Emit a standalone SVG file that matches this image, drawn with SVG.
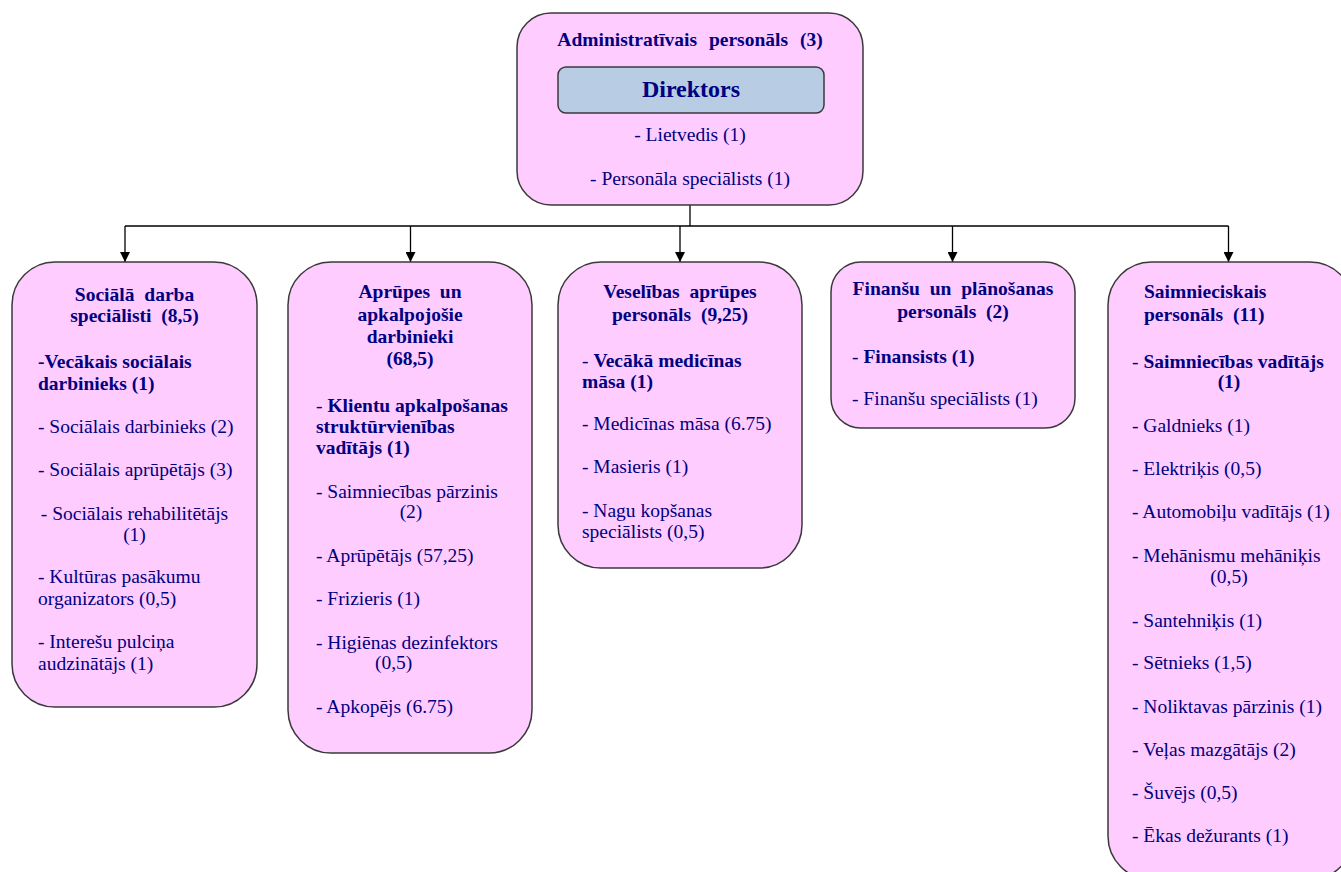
<svg xmlns="http://www.w3.org/2000/svg" width="1341" height="872" viewBox="0 0 1341 872">
<style>
.box{fill:#FFCCFF;stroke:#3a3a3a;stroke-width:1.5}
.dir{fill:#B8CCE4;stroke:#3a3a3a;stroke-width:1.5}
.t{font-family:'Liberation Serif','DejaVu Serif',serif;font-size:19.5px;fill:#000080}
.b{font-weight:bold}
.h{font-weight:bold;word-spacing:5px}
.c{text-anchor:middle}
.n{font-weight:normal}
.conn{stroke:#000;stroke-width:1.3;fill:none}
</style>
<defs>
<marker id="arr" markerWidth="10" markerHeight="10" refX="10" refY="5" orient="auto" markerUnits="userSpaceOnUse">
<path d="M0,0 L10,5 L0,10 z" fill="#000"/>
</marker>
</defs>
<rect width="1341" height="872" fill="#fff"/>

<g id="connectors">
<path class="conn" d="M690 205 V226 M125 226 H1228.5"/>
<path class="conn" d="M125 226 V262" marker-end="url(#arr)"/>
<path class="conn" d="M410.5 226 V262" marker-end="url(#arr)"/>
<path class="conn" d="M680 226 V262" marker-end="url(#arr)"/>
<path class="conn" d="M952.5 226 V262" marker-end="url(#arr)"/>
<path class="conn" d="M1228.5 226 V262" marker-end="url(#arr)"/>
</g>

<g id="admin">
<rect class="box" x="517" y="13" width="346" height="192" rx="34"/>
<text class="t c b" x="690" y="46" style="word-spacing:7px">Administratīvais personāls (3)</text>
<g id="direktors">
<rect class="dir" x="558" y="67" width="266" height="46" rx="8"/>
<text class="t c b" x="691" y="97" style="font-size:24px">Direktors</text>
</g>
<text class="t c" x="690" y="141">- Lietvedis (1)</text>
<text class="t c" x="690" y="185">- Personāla speciālists (1)</text>
</g>

<g id="socialie">
<rect class="box" x="12" y="262" width="245" height="445" rx="43"/>
<text class="t c h" x="134.5" y="301">Sociālā darba</text>
<text class="t c h" x="134.5" y="322">speciālisti (8,5)</text>
<text class="t b" x="38" y="368">-Vecākais sociālais</text>
<text class="t b" x="38" y="390">darbinieks (1)</text>
<text class="t" x="38" y="433">- Sociālais darbinieks (2)</text>
<text class="t" x="38" y="476">- Sociālais aprūpētājs (3)</text>
<text class="t c" x="134.5" y="520">- Sociālais rehabilitētājs</text>
<text class="t c" x="134.5" y="541">(1)</text>
<text class="t" x="38" y="583">- Kultūras pasākumu</text>
<text class="t" x="38" y="605">organizators (0,5)</text>
<text class="t" x="38" y="648">- Interešu pulciņa</text>
<text class="t" x="38" y="670">audzinātājs (1)</text>
</g>

<g id="aprupes">
<rect class="box" x="288" y="262" width="244" height="491" rx="43"/>
<text class="t c h" x="410" y="298">Aprūpes un</text>
<text class="t c h" x="410" y="321">apkalpojošie</text>
<text class="t c h" x="410" y="343">darbinieki</text>
<text class="t c h" x="410" y="365">(68,5)</text>
<text class="t b" x="316" y="412"><tspan class="n">- </tspan>Klientu apkalpošanas</text>
<text class="t b" x="316" y="433">struktūrvienības</text>
<text class="t b" x="316" y="454">vadītājs (1)</text>
<text class="t" x="316" y="498">- Saimniecības pārzinis</text>
<text class="t c" x="411" y="518">(2)</text>
<text class="t" x="316" y="562">- Aprūpētājs (57,25)</text>
<text class="t" x="316" y="605">- Frizieris (1)</text>
<text class="t" x="316" y="649">- Higiēnas dezinfektors</text>
<text class="t" x="375" y="669">(0,5)</text>
<text class="t" x="316" y="713">- Apkopējs (6.75)</text>
</g>

<g id="veselibas">
<rect class="box" x="558" y="262" width="244" height="306" rx="43"/>
<text class="t c h" x="680" y="298">Veselības aprūpes</text>
<text class="t c h" x="680" y="321">personāls (9,25)</text>
<text class="t b" x="582" y="367"><tspan class="n">- </tspan>Vecākā medicīnas</text>
<text class="t b" x="582" y="388">māsa (1)</text>
<text class="t" x="582" y="430">- Medicīnas māsa (6.75)</text>
<text class="t" x="582" y="473">- Masieris (1)</text>
<text class="t" x="582" y="517">- Nagu kopšanas</text>
<text class="t" x="582" y="538">speciālists (0,5)</text>
</g>

<g id="finansu">
<rect class="box" x="831" y="262" width="244" height="166" rx="30"/>
<text class="t c h" x="953" y="295">Finanšu un plānošanas</text>
<text class="t c h" x="953" y="318">personāls (2)</text>
<text class="t b" x="852" y="363"><tspan class="n">- </tspan>Finansists (1)</text>
<text class="t" x="852" y="405">- Finanšu speciālists (1)</text>
</g>

<g id="saimnieciskais">
<rect class="box" x="1108" y="262" width="245.5" height="617.5" rx="43.5"/>
<text class="t h" x="1144" y="298">Saimnieciskais</text>
<text class="t h" x="1144" y="321">personāls (11)</text>
<text class="t b" x="1132" y="368"><tspan class="n">- </tspan>Saimniecības vadītājs</text>
<text class="t b c" x="1229" y="388">(1)</text>
<text class="t" x="1132" y="432">- Galdnieks (1)</text>
<text class="t" x="1132" y="475">- Elektriķis (0,5)</text>
<text class="t" x="1132" y="518">- Automobiļu vadītājs (1)</text>
<text class="t" x="1132" y="562">- Mehānismu mehāniķis</text>
<text class="t c" x="1229" y="583">(0,5)</text>
<text class="t" x="1132" y="627">- Santehniķis (1)</text>
<text class="t" x="1132" y="669">- Sētnieks (1,5)</text>
<text class="t" x="1132" y="713">- Noliktavas pārzinis (1)</text>
<text class="t" x="1132" y="756">- Veļas mazgātājs (2)</text>
<text class="t" x="1132" y="799">- Šuvējs (0,5)</text>
<text class="t" x="1132" y="842">- Ēkas dežurants (1)</text>
</g>
</svg>
